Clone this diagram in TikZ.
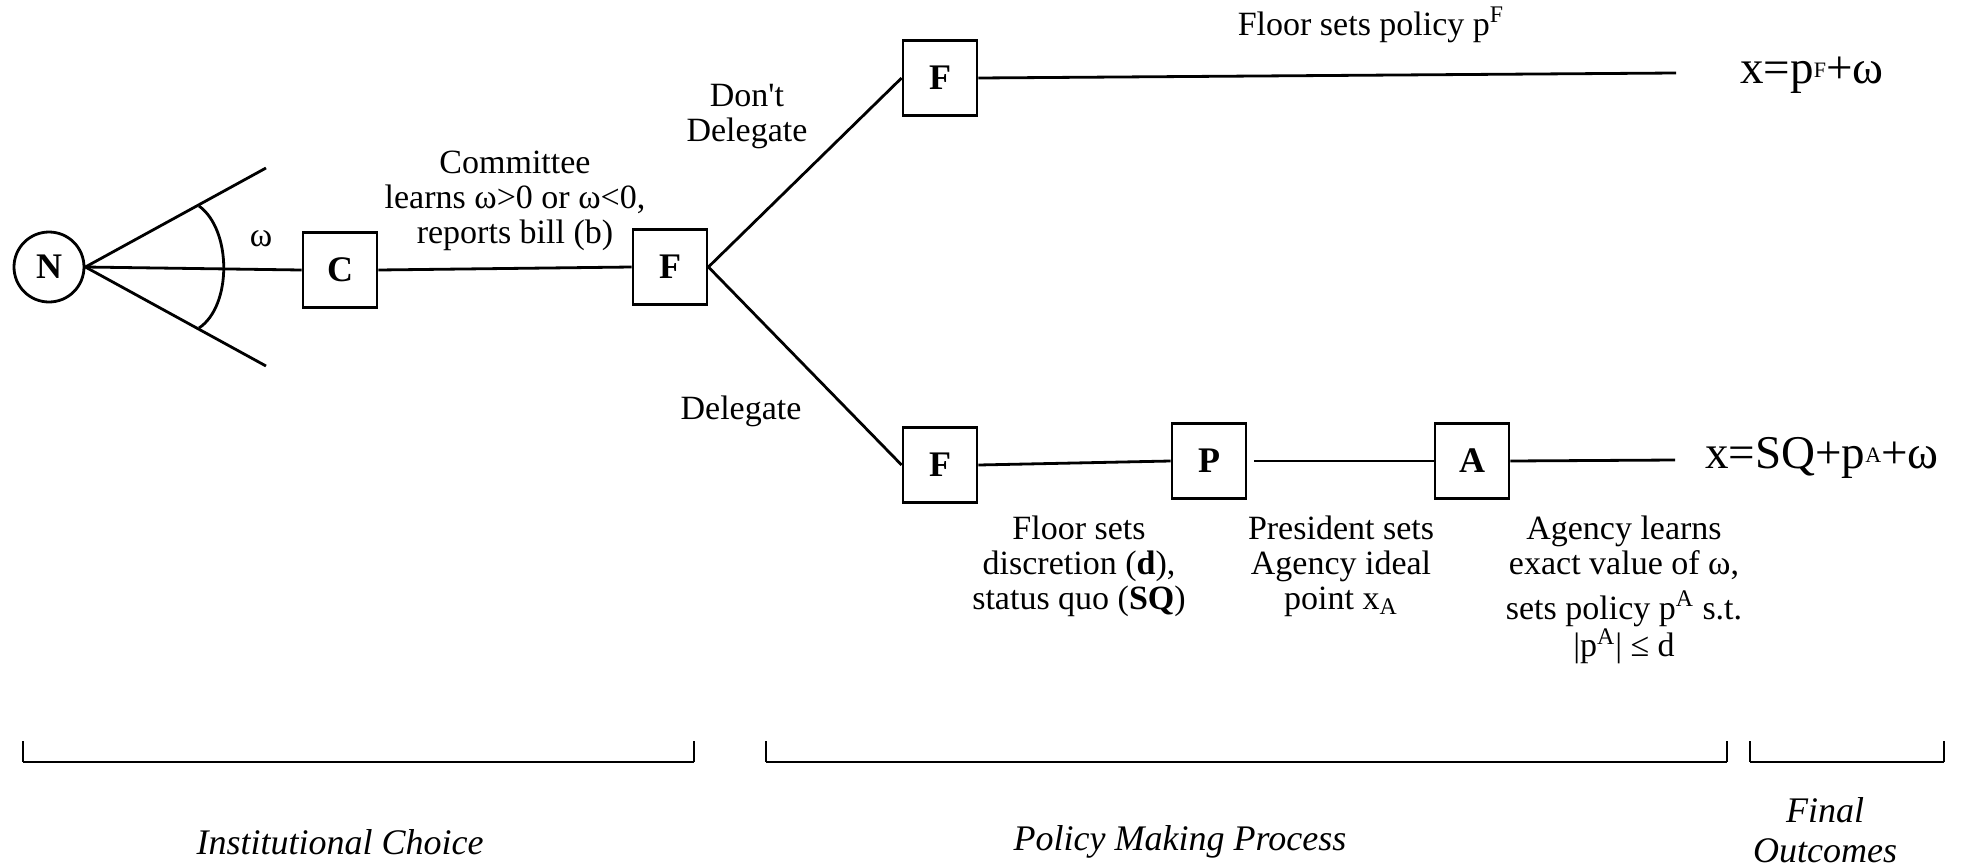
\documentclass[tikz,border=0pt]{standalone}
\usepackage{fontspec}
\setmainfont{Liberation Serif}
\newcommand{\smsup}[1]{\raisebox{3pt}{\fontsize{11}{11}\selectfont #1}}
\begin{document}
\begin{tikzpicture}[x=0.5pt,y=-0.5pt,line width=1.4pt,
  player/.style={draw,minimum width=37pt,minimum height=37.5pt,inner sep=0pt,font=\fontsize{18}{20}\selectfont\bfseries},
  nature/.style={draw,circle,minimum size=35pt,inner sep=0pt,font=\fontsize{18}{20}\selectfont\bfseries},
  txt/.style={align=center,font=\fontsize{17}{17.5}\selectfont},
  outc/.style={font=\fontsize{23.5}{26}\selectfont},
  phase/.style={align=center,font=\fontsize{18}{20}\selectfont\itshape}]
  \useasboundingbox (0,0) rectangle (1969,867);
  % players
  \node[nature] (N) at (49,267) {N};
  \node[player] (C) at (340,270) {C};
  \node[player] (F1) at (670,267) {F};
  \node[player] (Ftop) at (940,78) {F};
  \node[player] (Fbot) at (940,465) {F};
  \node[player] (P) at (1209,461) {P};
  \node[player] (A) at (1472,461) {A};
  \coordinate (wtop) at (266,168);
  \coordinate (wbot) at (266,366);
  \coordinate (endtop) at (1676,73);
  \coordinate (endbot) at (1675,460);
  % branches
  \draw (N.east) -- (wtop);
  \draw (N.east) -- (wbot);
  \draw (N.east) -- (C.west);
  \draw (199,206) .. controls (232,230) and (232,306) .. (199,328);
  \draw (C.east) -- (F1.west);
  \draw (F1.east) -- (Ftop.west);
  \draw (F1.east) -- (Fbot.west);
  \draw (Ftop.east) -- (endtop);
  \draw (Fbot.east) -- (P.west);
  \draw[shorten <=3.5pt] (P.east) -- (A.west);
  \draw (A.east) -- (endbot);
  % labels
  \node[txt] (omega) at (261,239) {ω};
  \node[txt] (comm) at (515,201) {Committee\\learns ω>0 or ω<0,\\reports bill (b)};
  \node[txt] (dont) at (747,117) {Don\textquotesingle t\\Delegate};
  \node[txt] (deleg) at (741,411) {Delegate};
  \node[txt] (floorpol) at (1371,25) {Floor sets policy p\textsuperscript{F}};
  \node[txt] (floordisc) at (1079,566) {Floor sets\\discretion (\textbf{d}),\\status quo (\textbf{SQ})};
  \node[txt] (pres) at (1341,566) {President sets\\Agency ideal\\point x\textsubscript{A}};
  \node[txt] (agency) at (1624,590) {Agency learns\\exact value of ω,\\[5pt]sets policy p\textsuperscript{A} s.t.\\|p\textsuperscript{A}| ≤ d};
  \node[outc] (xtop) at (1812,75) {x=p\smsup{F}+ω};
  \node[outc] (xbot) at (1822,458) {x=SQ+p\smsup{A}+ω};
  % phases
  \draw[line width=0.7pt] (23,741) -- (23,762);
  \draw[line width=0.7pt] (694,741) -- (694,762);
  \draw[line width=1.3pt] (23,762) -- (694,762);
  \draw[line width=0.7pt] (766,741) -- (766,762);
  \draw[line width=0.7pt] (1727,741) -- (1727,762);
  \draw[line width=1.3pt] (766,762) -- (1727,762);
  \draw[line width=0.7pt] (1750,741) -- (1750,762);
  \draw[line width=0.7pt] (1944,741) -- (1944,762);
  \draw[line width=1.3pt] (1750,762) -- (1944,762);
  \node[phase] (inst) at (340,842) {Institutional Choice};
  \node[phase] (pmp) at (1180,842) {Policy Making Process};
  \node[phase] (fin) at (1825,830) {Final\\Outcomes};
\end{tikzpicture}
\end{document}
